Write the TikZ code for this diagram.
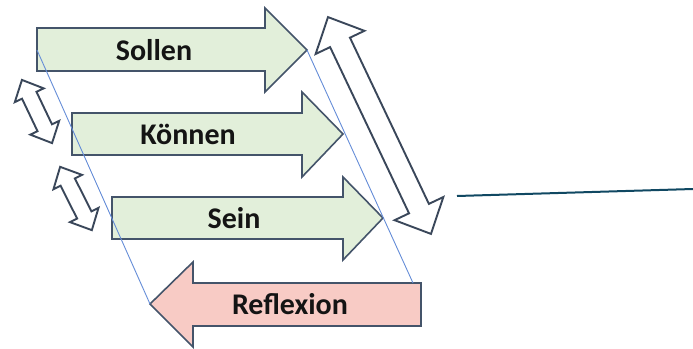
\documentclass[tikz,border=0pt]{standalone}
\usepackage{fontspec}
\setmainfont{Carlito}
\definecolor{sage}{RGB}{226, 239, 218}
\definecolor{blush}{RGB}{248, 203, 197}
\definecolor{slate}{RGB}{68, 84, 106}
\definecolor{cornflower}{RGB}{100, 140, 215}
\definecolor{petrol}{RGB}{16, 72, 98}
\definecolor{ink}{RGB}{20, 20, 20}

\begin{document}
\begin{tikzpicture}[x=1pt, y=-1pt,
    blockarrow/.style={draw=slate, line width=1.6pt, line join=miter},
    swaparrow/.style={draw=slate!85!black, fill=white, line width=1.9pt, line join=miter},
    wordtag/.style={font=\fontsize{30}{33}\selectfont\bfseries, text=ink, inner sep=0pt}]
    \useasboundingbox (0,0) rectangle (693,348);
            \filldraw[blockarrow, fill=sage]  ( 37, 28) -- (265, 28) -- (265,  8) -- (307, 50) -- (265, 92) -- (265, 71) -- ( 37, 71) -- cycle;
            \filldraw[blockarrow, fill=sage]  ( 72,113) -- (302,113) -- (302, 92) -- (343,134) -- (302,177) -- (302,155) -- ( 72,155) -- cycle;
            \filldraw[blockarrow, fill=sage]  (112,197) -- (343,197) -- (343,177) -- (383,218) -- (343,260) -- (343,239) -- (112,239) -- cycle;
            \filldraw[blockarrow, fill=blush] (421,283) -- (193,283) -- (193,262) -- (150,304) -- (193,347) -- (193,326) -- (421,326) -- cycle;
        % guide lines along the arrow ends
        \coordinate (sollenL)    at ( 37, 50);
        \coordinate (sollenR)    at (307, 50);
        \coordinate (reflexionL) at (150,304);
        \coordinate (reflexionR) at (413,283);
            \draw[cornflower, line width=0.9pt] (sollenL) -- (reflexionL);
            \draw[cornflower, line width=0.9pt] (sollenR) -- (reflexionR);
        % two-way arrows
        \begin{scope}[shift={(379.5,125.5)}, rotate=-64.6]
            \filldraw[swaparrow] (-120,0) -- (-92,27) -- (-92,11) -- (92,11) -- (92,27) -- (120,0) -- (92,-27) -- (92,-11) -- (-92,-11) -- (-92,-27) -- cycle;
        \end{scope}
        \begin{scope}[shift={(37,111.5)}, rotate=-64.5]
            \filldraw[swaparrow] (-35,0) -- (-18,16) -- (-18,8) -- (18,8) -- (18,16) -- (35,0) -- (18,-16) -- (18,-8) -- (-18,-8) -- (-18,-16) -- cycle;
        \end{scope}
        \begin{scope}[shift={(76,198.5)}, rotate=-63.4]
            \filldraw[swaparrow] (-35.4,0) -- (-18.4,16) -- (-18.4,8) -- (18.4,8) -- (18.4,16) -- (35.4,0) -- (18.4,-16) -- (18.4,-8) -- (-18.4,-8) -- (-18.4,-16) -- cycle;
        \end{scope}
        \coordinate (leadA) at (457,196);
        \coordinate (leadB) at (693,189);
            \draw[petrol, line width=2pt] (leadA) -- (leadB);
        % words
        \node[wordtag] (sollen)    at (154, 50) {Sollen};
        \node[wordtag] (koennen)   at (188,134) {Können};
        \node[wordtag] (sein)      at (234,218) {Sein};
        \node[wordtag] (reflexion) at (290,304) {Reflexion};
\end{tikzpicture}
\end{document}
